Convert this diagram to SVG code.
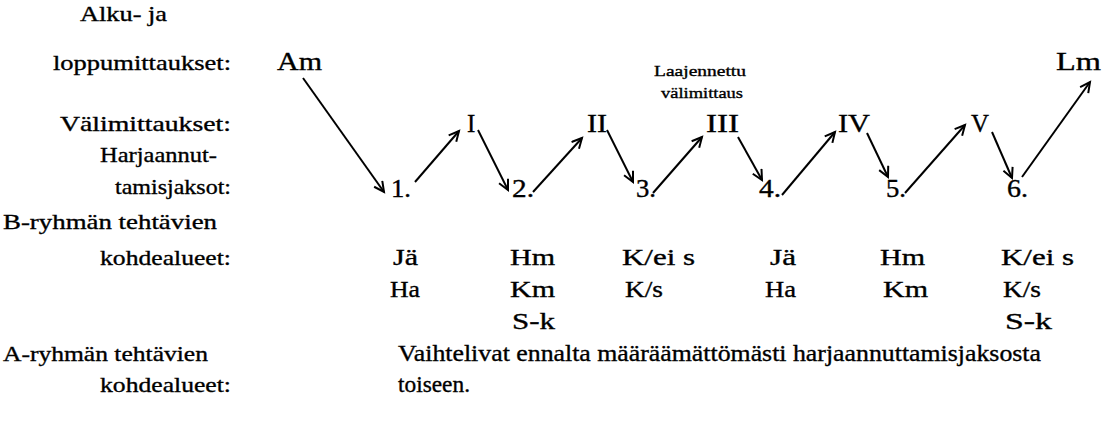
<svg xmlns="http://www.w3.org/2000/svg" width="1104" height="421" viewBox="0 0 1104 421">
<defs>
<style>
text{font-family:"Liberation Serif","Times New Roman","DejaVu Serif",serif;fill:#000;stroke:#000;stroke-width:0.35;}
.l{font-size:22px;}
.m{font-size:23px;}
.n{font-size:25px;}
.s{font-size:15px;}
.c line{stroke:#000;stroke-width:2;marker-end:url(#ah);}
</style>
<marker id="ah" markerWidth="14" markerHeight="14" refX="11" refY="6" orient="auto" markerUnits="userSpaceOnUse">
<path d="M1,1 L11,6 L1,11" fill="none" stroke="#000" stroke-width="2"/>
</marker>
</defs>
<rect width="1104" height="421" fill="#fff"/>
<g id="labels">
<text class="l" x="80" y="21" textLength="87" lengthAdjust="spacingAndGlyphs">Alku- ja</text>
<text class="l" x="53" y="70" textLength="178" lengthAdjust="spacingAndGlyphs">loppumittaukset:</text>
<text class="l" x="60" y="131" textLength="171" lengthAdjust="spacingAndGlyphs">Välimittaukset:</text>
<text class="l" x="100" y="162" textLength="117" lengthAdjust="spacingAndGlyphs">Harjaannut-</text>
<text class="l" x="115" y="194" textLength="116" lengthAdjust="spacingAndGlyphs">tamisjaksot:</text>
<text class="l" x="3" y="229" textLength="214" lengthAdjust="spacingAndGlyphs">B-ryhmän tehtävien</text>
<text class="l" x="100" y="265" textLength="131" lengthAdjust="spacingAndGlyphs">kohdealueet:</text>
<text class="l" x="3" y="361" textLength="205" lengthAdjust="spacingAndGlyphs">A-ryhmän tehtävien</text>
<text class="l" x="100" y="392" textLength="131" lengthAdjust="spacingAndGlyphs">kohdealueet:</text>
</g>
<g id="node-Am"><text class="n" x="277" y="70" textLength="45" lengthAdjust="spacingAndGlyphs">Am</text></g>
<g id="node-Lm"><text class="n" x="1056" y="70" textLength="45" lengthAdjust="spacingAndGlyphs">Lm</text></g>
<g id="note-laajennettu">
<text class="s" x="700" y="76" text-anchor="middle" textLength="92" lengthAdjust="spacingAndGlyphs">Laajennettu</text>
<text class="s" x="702" y="98" text-anchor="middle" textLength="82" lengthAdjust="spacingAndGlyphs">välimittaus</text>
</g>
<g id="node-I"><text class="n" x="467" y="132">I</text></g>
<g id="node-II"><text class="n" x="587" y="132" textLength="20" lengthAdjust="spacingAndGlyphs">II</text></g>
<g id="node-III"><text class="n" x="706" y="132" textLength="33" lengthAdjust="spacingAndGlyphs">III</text></g>
<g id="node-IV"><text class="n" x="838" y="132" textLength="32" lengthAdjust="spacingAndGlyphs">IV</text></g>
<g id="node-V"><text class="n" x="971" y="132" textLength="18" lengthAdjust="spacingAndGlyphs">V</text></g>
<g id="node-1"><text class="n" x="391" y="197" textLength="20" lengthAdjust="spacingAndGlyphs">1.</text></g>
<g id="node-2"><text class="n" x="512" y="197" textLength="22" lengthAdjust="spacingAndGlyphs">2.</text></g>
<g id="node-3"><text class="n" x="636" y="197" textLength="20" lengthAdjust="spacingAndGlyphs">3.</text></g>
<g id="node-4"><text class="n" x="759" y="197" textLength="22" lengthAdjust="spacingAndGlyphs">4.</text></g>
<g id="node-5"><text class="n" x="886" y="197" textLength="20" lengthAdjust="spacingAndGlyphs">5.</text></g>
<g id="node-6"><text class="n" x="1007" y="197" textLength="21" lengthAdjust="spacingAndGlyphs">6.</text></g>
<g id="b-areas">
<text class="m" x="393" y="265" textLength="25" lengthAdjust="spacingAndGlyphs">Jä</text>
<text class="m" x="510" y="265" textLength="45" lengthAdjust="spacingAndGlyphs">Hm</text>
<text class="m" x="622" y="265" textLength="73" lengthAdjust="spacingAndGlyphs">K/ei s</text>
<text class="m" x="770" y="265" textLength="26" lengthAdjust="spacingAndGlyphs">Jä</text>
<text class="m" x="880" y="265" textLength="45" lengthAdjust="spacingAndGlyphs">Hm</text>
<text class="m" x="1001" y="265" textLength="73" lengthAdjust="spacingAndGlyphs">K/ei s</text>
<text class="m" x="390" y="297" textLength="30" lengthAdjust="spacingAndGlyphs">Ha</text>
<text class="m" x="510" y="297" textLength="45" lengthAdjust="spacingAndGlyphs">Km</text>
<text class="m" x="625" y="297" textLength="38" lengthAdjust="spacingAndGlyphs">K/s</text>
<text class="m" x="765" y="297" textLength="31" lengthAdjust="spacingAndGlyphs">Ha</text>
<text class="m" x="883" y="297" textLength="45" lengthAdjust="spacingAndGlyphs">Km</text>
<text class="m" x="1003" y="297" textLength="38" lengthAdjust="spacingAndGlyphs">K/s</text>
<text class="m" x="512" y="329" textLength="43" lengthAdjust="spacingAndGlyphs">S-k</text>
<text class="m" x="1005" y="329" textLength="47" lengthAdjust="spacingAndGlyphs">S-k</text>
</g>
<g id="a-areas">
<text class="m" x="398" y="361" textLength="643" lengthAdjust="spacingAndGlyphs">Vaihtelivat ennalta määräämättömästi harjaannuttamisjaksosta</text>
<text class="m" x="398" y="392" textLength="72" lengthAdjust="spacingAndGlyphs">toiseen.</text>
</g>
<g id="connectors" class="c">
<line x1="303" y1="78" x2="384" y2="192"/>
<line x1="415" y1="182" x2="459" y2="131"/>
<line x1="478" y1="130" x2="508" y2="190"/>
<line x1="533" y1="192" x2="582" y2="138"/>
<line x1="607" y1="130" x2="633" y2="182"/>
<line x1="653" y1="193" x2="702" y2="137"/>
<line x1="738" y1="137" x2="762" y2="180"/>
<line x1="782" y1="195" x2="835" y2="132"/>
<line x1="867" y1="133" x2="888" y2="177"/>
<line x1="905" y1="193" x2="965" y2="125"/>
<line x1="992" y1="132" x2="1012" y2="178"/>
<line x1="1022" y1="177" x2="1090" y2="82"/>
</g>
</svg>
